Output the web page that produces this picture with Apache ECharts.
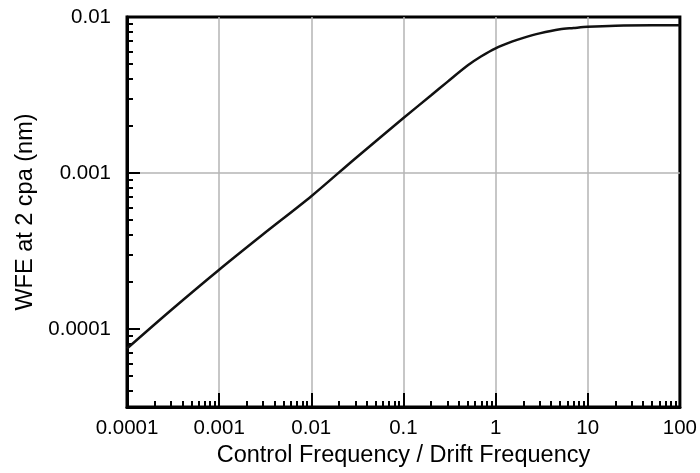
<!DOCTYPE html>
<html>
<head>
<meta charset="utf-8">
<script src="https://cdn.jsdelivr.net/npm/echarts@6/dist/echarts.min.js"></script>
<style>
  html, body { margin: 0; padding: 0; background: #fff; }
  #chart { width: 700px; height: 473px; }
</style>
</head>
<body>
<div id="chart"></div>
<script>
// Control frequency relative to drift frequency, and resulting wavefront error (nm)
const freqRatio = [1e-4, 3e-4, 1e-3, 3e-3, 1e-2, 3e-2, 0.1, 0.2, 0.3, 0.5, 0.7, 1, 1.5, 2, 3, 5, 7, 10, 20, 50, 100];
const wfe = [7.5e-5, 1.32e-4, 2.4e-4, 4.05e-4, 7.1e-4, 1.24e-3, 2.25e-3, 3.15e-3, 3.84e-3, 4.9e-3, 5.6e-3, 6.3e-3, 6.95e-3, 7.35e-3, 7.85e-3, 8.35e-3, 8.5e-3, 8.65e-3, 8.8e-3, 8.85e-3, 8.85e-3];

// Decade tick labels
const xTickLabels = ['0.0001', '0.001', '0.01', '0.1', '1', '10', '100'];
const yTickLabels = ['0.0001', '0.001', '0.01'];

// Both axes are logarithmic; they are drawn as linear axes over log10 values
const xDecades = [-4, 2];
const yRange = [-4.5, -2];

function decadeTicks(lo, hi) {
  const out = [];
  for (let e = Math.ceil(lo); e <= Math.floor(hi); e++) out.push(e);
  return out;
}
function minorTicks(lo, hi) {
  const out = [];
  for (let e = Math.floor(lo); e < Math.ceil(hi); e++) {
    for (let k = 2; k <= 9; k++) {
      const v = e + Math.log10(k);
      if (v > lo + 1e-9 && v < hi - 1e-9) out.push(v);
    }
  }
  return out;
}
function labelFor(list, firstExp) {
  return function (v) {
    const i = Math.round(v) - firstExp;
    return Math.abs(v - Math.round(v)) < 1e-6 && list[i] !== undefined ? list[i] : '';
  };
}

const FONT = "'Liberation Sans', Arial, Helvetica, sans-serif";
const xMajor = decadeTicks(xDecades[0], xDecades[1]);
const yMajor = decadeTicks(yRange[0], yRange[1]);

const chart = echarts.init(document.getElementById('chart'));
chart.setOption({
  animation: false,
  backgroundColor: '#fff',
  grid: {
    left: 127, right: 19, top: 17, bottom: 64,
    show: true, borderColor: '#000', borderWidth: 3, backgroundColor: 'transparent'
  },
  xAxis: [
    {
      type: 'value', position: 'bottom',
      min: xDecades[0], max: xDecades[1], interval: 1,
      name: 'Control Frequency / Drift Frequency',
      nameLocation: 'middle', nameGap: 37,
      nameTextStyle: { fontFamily: FONT, fontSize: 23.5, color: '#000' },
      axisLine: { show: true, onZero: false, lineStyle: { color: '#000', width: 3 } },
      axisTick: { show: true, inside: true, length: 14, lineStyle: { color: '#000', width: 2 } },
      axisLabel: {
        show: true, margin: 11, fontFamily: FONT, fontSize: 20.5, color: '#000',
        customValues: xMajor,
        formatter: labelFor(xTickLabels, xDecades[0])
      },
      splitLine: { show: true, showMinLine: false, showMaxLine: false,
                   lineStyle: { color: '#b4b4b4', width: 1.5 } }
    },
    {
      type: 'value', position: 'bottom',
      min: xDecades[0], max: xDecades[1],
      axisLine: { show: false, onZero: false },
      axisTick: { show: true, inside: true, length: 6, customValues: minorTicks(xDecades[0], xDecades[1]),
                  lineStyle: { color: '#000', width: 2 } },
      axisLabel: { show: false },
      splitLine: { show: false }
    }
  ],
  yAxis: [
    {
      type: 'value', position: 'left',
      min: yRange[0], max: yRange[1],
      name: 'WFE at 2 cpa (nm)',
      nameLocation: 'middle', nameGap: 89, nameRotate: 90,
      nameTextStyle: { fontFamily: FONT, fontSize: 23.5, color: '#000' },
      axisLine: { show: true, onZero: false, lineStyle: { color: '#000', width: 3 } },
      axisTick: { show: true, inside: true, length: 13, customValues: yMajor,
                  lineStyle: { color: '#000', width: 2 } },
      axisLabel: {
        show: true, margin: 16, fontFamily: FONT, fontSize: 20.5, color: '#000',
        customValues: yMajor,
        formatter: labelFor(yTickLabels, -4)
      },
      splitLine: { show: true, showMinLine: false, showMaxLine: false,
                   lineStyle: { color: '#b4b4b4', width: 1.5 } }
    },
    {
      type: 'value', position: 'left',
      min: yRange[0], max: yRange[1],
      axisLine: { show: false, onZero: false },
      axisTick: { show: true, inside: true, length: 6, customValues: minorTicks(yRange[0], yRange[1]),
                  lineStyle: { color: '#000', width: 2 } },
      axisLabel: { show: false },
      splitLine: { show: false }
    }
  ],
  series: [{
    type: 'line',
    xAxisIndex: 0, yAxisIndex: 0,
    data: freqRatio.map((f, i) => [Math.log10(f), Math.log10(wfe[i])]),
    showSymbol: false,
    smooth: 0.3,
    lineStyle: { color: '#111', width: 2.5 },
    z: 3
  }]
});
</script>
</body>
</html>
